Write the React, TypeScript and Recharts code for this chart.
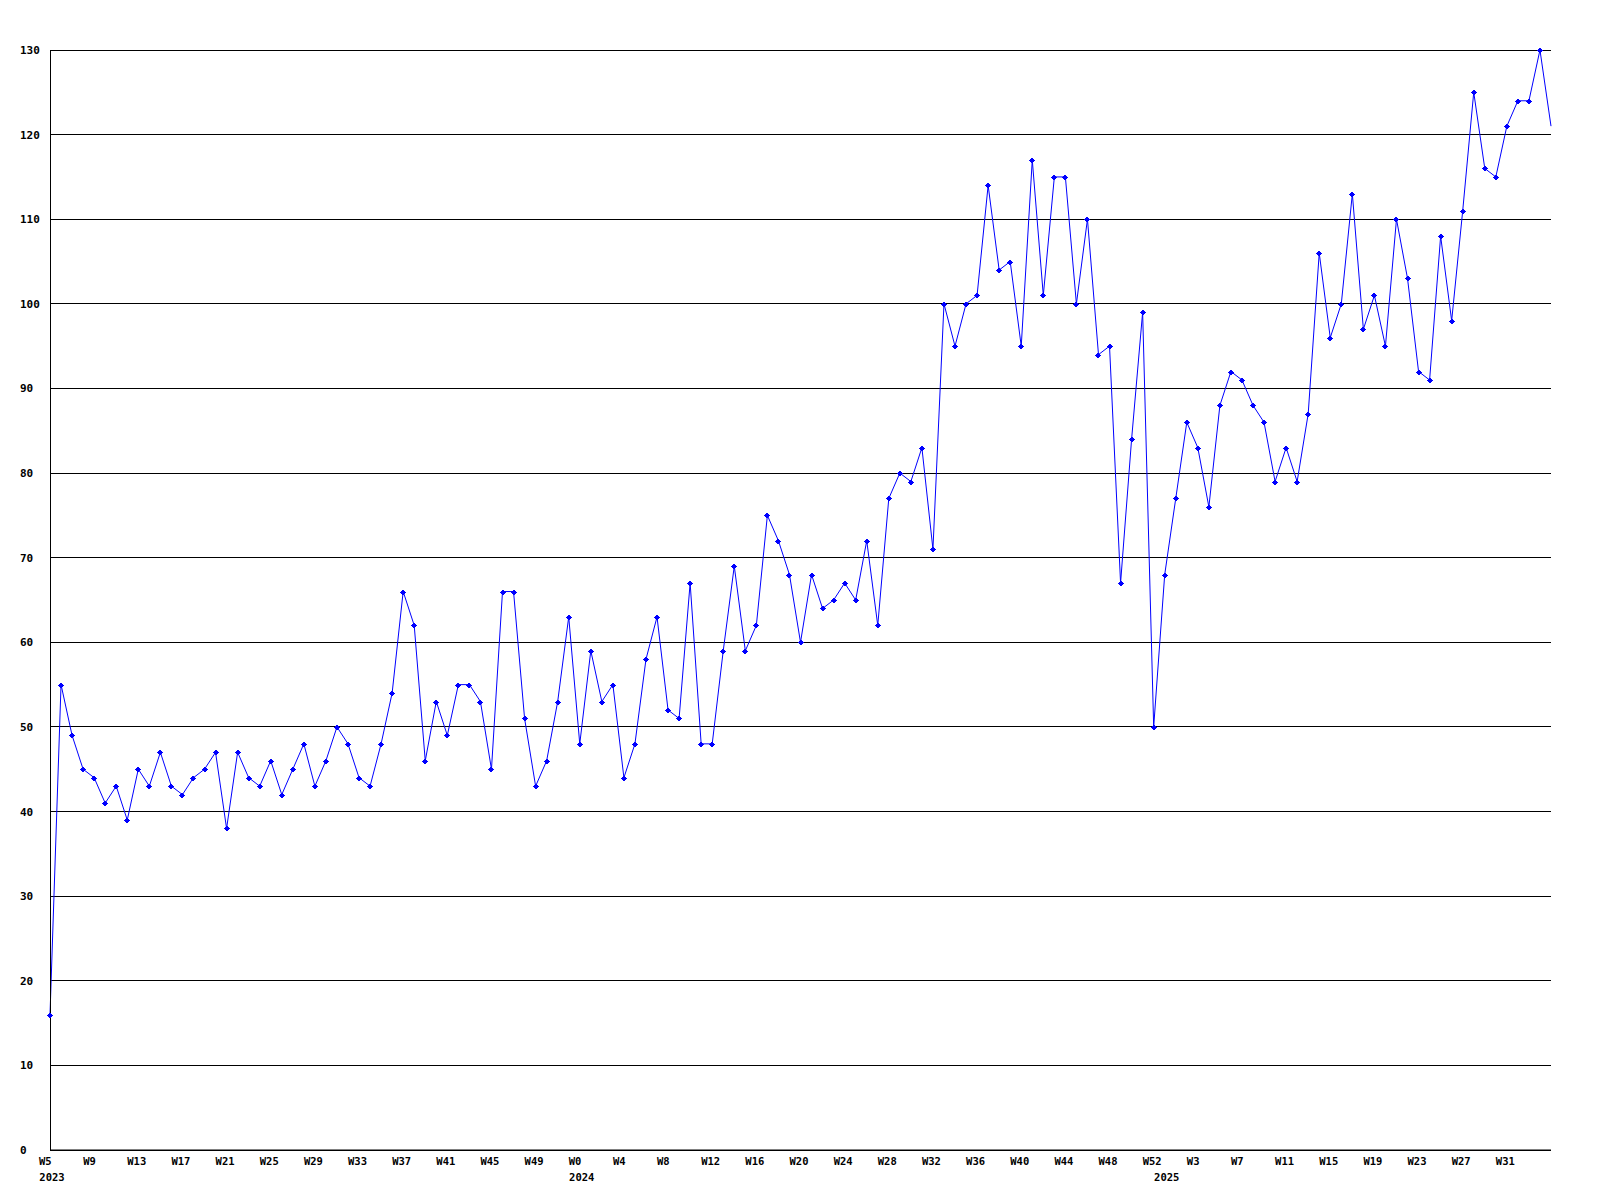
import React from "react";
import { CartesianGrid, Line, LineChart, XAxis, YAxis } from "recharts";

// weekly counts, one array per year
const years = ["2023", "2024", "2025"];
const firstWeek = [5, 0, 0];

const values2023 = [
	16, 55, 49, 45, 44, 41, 43, 39, 45, 43, 47, 43, 42, 44, 45, 47, 38, 47, 44,
	43, 46, 42, 45, 48, 43, 46, 50, 48, 44, 43, 48, 54, 66, 62, 46, 53, 49, 55,
	55, 53, 45, 66, 66, 51, 43, 46, 53, 63,
];
const values2024 = [
	48, 59, 53, 55, 44, 48, 58, 63, 52, 51, 67, 48, 48, 59, 69, 59, 62, 75, 72,
	68, 60, 68, 64, 65, 67, 65, 72, 62, 77, 80, 79, 83, 71, 100, 95, 100, 101,
	114, 104, 105, 95, 117, 101, 115, 115, 100, 110, 94, 95, 67, 84, 99, 50,
];
const values2025 = [
	68, 77, 86, 83, 76, 88, 92, 91, 88, 86, 79, 83, 79, 87, 106, 96, 100, 113, 97,
	101, 95, 110, 103, 92, 91, 108, 98, 111, 125, 116, 115, 121, 124, 124, 130,
	121,
];

const yTicks = [0, 10, 20, 30, 40, 50, 60, 70, 80, 90, 100, 110, 120, 130];

const series = [values2023, values2024, values2025];

const data: { i: number; week: string; year: string; yearStart: boolean; count: number }[] = [];
series.forEach((vals, y) => {
	vals.forEach((v, k) => {
		data.push({
			i: data.length,
			week: `W${firstWeek[y] + k}`,
			year: years[y],
			yearStart: k === 0,
			count: v,
		});
	});
});

const lastIndex = data.length - 1;
// a label every 4 weeks, none on the very last week at the right edge
const xTicks = data
	.filter((d) => (d.i % 4 === 0 && d.i < lastIndex) || d.yearStart)
	.map((d) => d.i);

const FONT = "'DejaVu Sans Mono', monospace";

function WeekTick(props: any) {
	const { x, payload } = props;
	const d = data[payload.value];
	if (!d) return null;
	return (
		<g>
			{d.i % 4 === 0 && (
				<text
					x={x - 11}
					y={1165}
					textAnchor="start"
					fontFamily={FONT}
					fontWeight="bold"
					fontSize={10.5}
					fill="#000"
				>
					{d.week}
				</text>
			)}
			{d.yearStart && (
				<text
					x={x + 2}
					y={1181}
					textAnchor="middle"
					fontFamily={FONT}
					fontWeight="bold"
					fontSize={10.5}
					fill="#000"
				>
					{d.year}
				</text>
			)}
		</g>
	);
}

function CountTick(props: any) {
	const { y, payload } = props;
	return (
		<text
			x={20}
			y={y + 4}
			textAnchor="start"
			fontFamily={FONT}
			fontWeight="bold"
			fontSize={11}
			fill="#000"
		>
			{payload.value}
		</text>
	);
}

function Marker(props: any) {
	const { cx, cy, index } = props;
	if (index === lastIndex || cx == null || cy == null) return null;
	const x = Math.round(cx);
	const y = Math.round(cy);
	return (
		<path
			key={index}
			d={`M${x - 1} ${y - 2.5}h2v1h1v1h1v1h-1v1h-1v1h-2v-1h-1v-1h-1v-1h1v-1h1z`}
			fill="#0000ff"
			shapeRendering="crispEdges"
		/>
	);
}

export default function App() {
	return (
		<div style={{ position: "absolute", left: 0, top: 0, background: "#fff" }}>
			<LineChart
				width={1600}
				height={1200}
				data={data}
				margin={{ top: 50, right: 49, left: 0, bottom: 0 }}
			>
				<CartesianGrid
					vertical={false}
					stroke="#000"
					strokeOpacity={1}
					shapeRendering="crispEdges"
				/>
				<XAxis
					dataKey="i"
					type="number"
					domain={[0, lastIndex]}
					ticks={xTicks}
					interval={0}
					height={50}
					tickLine={false}
					axisLine={{ stroke: "#000" }}
					tick={<WeekTick />}
				/>
				<YAxis
					width={50}
					domain={[0, 130]}
					ticks={yTicks}
					interval={0}
					tickLine={false}
					axisLine={{ stroke: "#000", shapeRendering: "crispEdges" }}
					tick={<CountTick />}
				/>
				<Line
					type="linear"
					dataKey="count"
					stroke="#0000ff"
					strokeWidth={1}
					dot={<Marker />}
					activeDot={false}
					isAnimationActive={false}
				/>
			</LineChart>
		</div>
	);
}
